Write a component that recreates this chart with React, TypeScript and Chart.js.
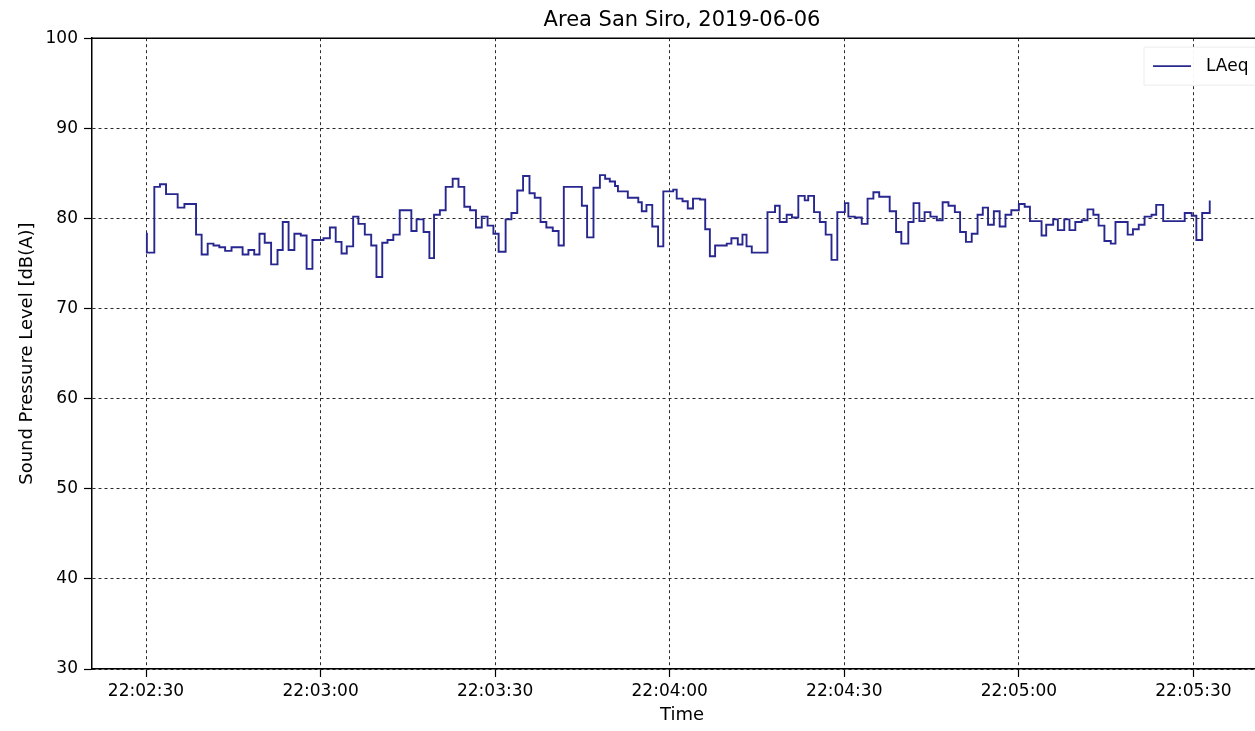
import React, { useEffect, useRef } from "react";
import { Chart, registerables } from "chart.js";

Chart.register(...registerables);

// Seconds after 22:02:30 at which each step of the LAeq trace starts
const stepTimes = [
  0, 0.15, 1.43, 2.4, 3.44, 5.44, 6.6, 8.6, 9.56, 10.6,
  11.6, 12.6, 13.6, 14.7, 16.6, 17.6, 18.6, 19.5, 20.4, 21.5,
  22.6, 23.5, 24.5, 25.5, 26.6, 27.6, 28.6, 30.5, 31.6, 32.6,
  33.6, 34.5, 35.6, 36.5, 37.6, 38.7, 39.6, 40.6, 41.5, 42.5,
  43.6, 45.6, 46.5, 47.7, 48.7, 49.5, 50.5, 51.5, 52.7, 53.7,
  54.7, 55.7, 56.7, 57.7, 58.7, 59.7, 60.6, 61.8, 62.8, 63.8,
  64.8, 65.9, 66.8, 67.8, 68.8, 69.9, 70.9, 71.8, 74.9, 75.8,
  76.9, 78.0, 78.9, 79.7, 80.6, 81.1, 82.8, 84.6, 85.2, 86.0,
  87.0, 88.0, 88.9, 90.6, 91.2, 92.2, 93.1, 94.0, 95.2, 96.1,
  96.9, 97.8, 99.8, 100.6, 101.7, 102.5, 103.2, 104.1, 106.8, 108.1,
  108.9, 110.1, 111.0, 112.1, 113.2, 113.8, 114.8, 115.8, 116.8, 117.8,
  118.8, 120.1, 120.7, 121.8, 123.0, 124.0, 125.0, 126.0, 127.8, 128.9,
  129.8, 131.0, 131.9, 132.9, 133.8, 134.8, 135.9, 136.9, 137.9, 139.0,
  139.9, 140.9, 141.9, 142.9, 143.8, 144.7, 145.7, 146.7, 147.7, 148.7,
  150.0, 151.0, 151.9, 153.9, 154.7, 155.9, 156.7, 157.8, 158.7, 159.7,
  160.8, 161.8, 162.8, 163.7, 164.7, 165.8, 166.6, 168.7, 169.6, 170.6,
  171.6, 172.8, 173.6, 174.8, 178.5, 179.7, 180.5, 181.5, 182.8,
];

// LAeq values in dB(A)
const laeq = [
  78.3, 76.2, 83.5, 83.8, 82.7, 81.2, 81.6, 78.2, 76.0, 77.2,
  77.0, 76.8, 76.4, 76.8, 76.0, 76.5, 76.0, 78.3, 77.3, 74.9,
  76.5, 79.6, 76.5, 78.3, 78.1, 74.4, 77.6, 77.8, 79.0, 77.4,
  76.1, 76.9, 80.2, 79.4, 78.2, 77.0, 73.5, 77.3, 77.6, 78.2,
  80.9, 78.6, 79.9, 78.5, 75.6, 80.4, 80.9, 83.5, 84.4, 83.5,
  81.3, 80.9, 79.0, 80.2, 79.2, 78.3, 76.3, 79.9, 80.6, 83.1,
  84.7, 82.8, 82.3, 79.6, 79.0, 78.6, 77.0, 83.5, 81.4, 77.9,
  83.4, 84.8, 84.4, 84.1, 83.6, 83.0, 82.3, 81.8, 80.8, 81.5,
  79.1, 76.9, 83.0, 83.2, 82.2, 81.9, 81.1, 82.2, 82.1, 78.8,
  75.8, 77.0, 77.2, 77.8, 77.1, 78.2, 76.9, 76.2, 80.7, 81.4,
  79.6, 80.4, 80.1, 82.5, 82.0, 82.5, 80.7, 79.6, 78.2, 75.4,
  80.7, 81.7, 80.2, 80.1, 79.4, 82.2, 82.9, 82.4, 80.8, 78.5,
  77.2, 79.6, 81.7, 79.7, 80.7, 80.2, 79.8, 81.8, 81.4, 80.7,
  78.5, 77.4, 78.3, 80.4, 81.2, 79.3, 80.8, 79.1, 80.4, 80.9,
  81.6, 81.3, 79.7, 78.1, 79.3, 79.9, 78.7, 79.9, 78.7, 79.6,
  79.8, 81.0, 80.4, 79.2, 77.5, 77.2, 79.6, 78.2, 78.8, 79.3,
  80.2, 80.4, 81.5, 79.7, 80.6, 80.3, 77.6, 80.6, 82.0,
];

const tickSeconds = [0, 30, 60, 90, 120, 150, 180];
const tickLabels = ["22:02:30", "22:03:00", "22:03:30", "22:04:00", "22:04:30", "22:05:00", "22:05:30"];

const TITLE = "Area San Siro, 2019-06-06";
const SERIES_LABEL = "LAeq";
const LINE_COLOR = "#27278f";
const FONT = "DejaVu Sans";

const framePlugin = {
  id: "frameAndLegend",
  afterDraw(chart: any) {
    const { ctx, chartArea } = chart;
    const { left, right, top, bottom } = chartArea;
    ctx.save();
    // top and right spines
    ctx.strokeStyle = "#000";
    ctx.lineWidth = 1.6;
    ctx.beginPath();
    ctx.moveTo(left, top);
    ctx.lineTo(right, top);
    ctx.lineTo(right, bottom);
    ctx.stroke();
    // legend box inside plot, upper right
    const bx = right - 128;
    const by = top + 9;
    ctx.fillStyle = "rgba(255,255,255,0.95)";
    ctx.strokeStyle = "#ececec";
    ctx.lineWidth = 1;
    ctx.beginPath();
    ctx.rect(bx, by, 124, 38);
    ctx.fill();
    ctx.stroke();
    const ly = top + 28;
    ctx.strokeStyle = LINE_COLOR;
    ctx.lineWidth = 1.8;
    ctx.beginPath();
    ctx.moveTo(right - 119, ly);
    ctx.lineTo(right - 81, ly);
    ctx.stroke();
    ctx.fillStyle = "#000";
    ctx.font = `17px "${FONT}"`;
    ctx.textBaseline = "middle";
    ctx.textAlign = "left";
    ctx.fillText(chart.data.datasets[0].label, right - 66, ly);
    ctx.restore();
  },
};

export default function App() {
  const canvasRef = useRef<HTMLCanvasElement | null>(null);

  useEffect(() => {
    document.body.style.margin = "0";
    const canvas = canvasRef.current;
    if (!canvas) return;
    const gridCommon = {
      color: "#2a2a2a",
      lineWidth: 1,
      tickColor: "#000000",
      tickLength: 8,
      tickWidth: 1.2,
      tickBorderDash: [],
      drawOnChartArea: true,
      drawTicks: true,
    };
    const chart = new Chart(canvas, {
      type: "line",
      data: {
        datasets: [
          {
            label: SERIES_LABEL,
            data: stepTimes.map((t, i) => ({ x: t, y: laeq[i] })),
            borderColor: LINE_COLOR,
            backgroundColor: LINE_COLOR,
            borderWidth: 1.9,
            stepped: "before",
            pointRadius: 0,
            fill: false,
            tension: 0,
          },
        ],
      },
      plugins: [framePlugin],
      options: {
        animation: false,
        responsive: false,
        devicePixelRatio: 1,
        layout: { padding: { left: 0, right: 18, top: 0, bottom: 0 } },
        plugins: {
          legend: { display: false },
          tooltip: { enabled: false },
          title: {
            display: true,
            text: TITLE,
            color: "#000",
            fullSize: false,
            font: { family: FONT, size: 21, weight: "normal" },
            padding: { top: 8, bottom: 5 },
          },
        },
        scales: {
          x: {
            type: "linear",
            min: -9.28,
            max: 193.5,
            afterFit: (scale: any) => {
              scale.height = 62;
            },
            afterBuildTicks: (scale: any) => {
              scale.ticks = tickSeconds.map((v) => ({ value: v }));
            },
            ticks: {
              autoSkip: false,
              maxRotation: 0,
              padding: 4,
              color: "#000",
              font: { family: FONT, size: 17 },
              callback: (value: any) => {
                const idx = tickSeconds.indexOf(Number(value));
                return idx >= 0 ? tickLabels[idx] : "";
              },
            },
            grid: gridCommon,
            border: { display: true, color: "#000", width: 1.5, dash: [3, 3] },
            title: {
              display: true,
              text: "Time",
              color: "#000",
              font: { family: FONT, size: 18 },
              padding: { top: 0, bottom: 5 },
            },
          },
          y: {
            type: "linear",
            min: 30,
            max: 100,
            afterFit: (scale: any) => {
              scale.width = 92;
            },
            ticks: {
              stepSize: 10,
              padding: 6,
              color: "#000",
              font: { family: FONT, size: 17 },
            },
            grid: gridCommon,
            border: { display: true, color: "#000", width: 1.5, dash: [3, 3] },
            title: {
              display: true,
              text: "Sound Pressure Level [dB(A)]",
              color: "#000",
              font: { family: FONT, size: 18 },
              padding: { top: 17, bottom: 0 },
            },
          },
        },
      },
    } as any);
    return () => {
      chart.destroy();
    };
  }, []);

  return (
    <div style={{ position: "absolute", left: 0, top: 0, width: 1255, height: 731, background: "#fff", overflow: "hidden" }}>
      <canvas ref={canvasRef} width={1290} height={731} style={{ display: "block" }} />
    </div>
  );
}
